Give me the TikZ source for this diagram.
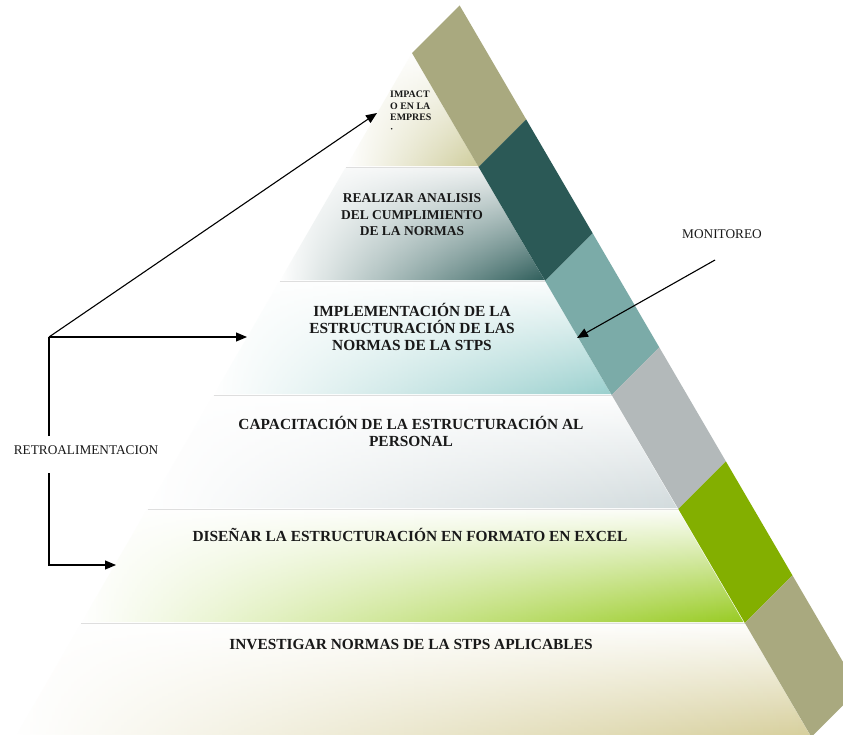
\documentclass[tikz,border=0pt]{standalone}
\usepackage{fontspec}
\setmainfont{Liberation Serif}
\usetikzlibrary{arrows.meta,fadings}
\tikzfading[name=fadeR, left color=transparent!100, right color=transparent!0]
\newcommand\xl[1]{412-0.58*(#1-53)}
\newcommand\xr[1]{412+0.584*(#1-53)}
\definecolor{olive}{HTML}{A9A97F}
\definecolor{dteal}{HTML}{2B5956}
\definecolor{mteal}{HTML}{7BABA8}
\definecolor{bgrey}{HTML}{B3B9BA}
\definecolor{bgreen}{HTML}{83AF00}
\definecolor{lolive}{HTML}{CFCD9C}
\definecolor{ldteal}{HTML}{2F5E5B}
\definecolor{ldtop}{HTML}{E8ECEC}
\definecolor{lteal}{HTML}{9AD0CE}
\definecolor{lgrey}{HTML}{D2DBDD}
\definecolor{lgreen}{HTML}{98CB22}
\definecolor{ltan}{HTML}{D5CD98}
\begin{document}
\begin{tikzpicture}[x=1pt,y=-1pt,
  lbl/.style={align=center, text=black!90, font=\bfseries\fontsize{15.4}{17}\selectfont, inner sep=0pt},
  plain/.style={text=black!90, font=\fontsize{13.3}{15}\selectfont, inner sep=0pt},
  arr/.style={line width=1.1pt, -{Triangle[length=11pt,width=9pt]}},
  ln/.style={line width=1.1pt},
  sepline/.style={draw=black!13, line width=1pt},
  layer/.style={shade, top color=#1!4, bottom color=#1, path fading=fadeR},
  barseg/.style={fill=#1, draw=none}]
\useasboundingbox (0,0) rectangle (843,734);
\clip (0,0) rectangle (843,734);
\fill[white] (0,0) rectangle (843,734);
% layers
\path[layer=lolive] (412,53) -- ({\xr{166}},166) -- ({\xl{166}},166) -- cycle;
\path[shade, top color=ldtop, bottom color=ldteal, path fading=fadeR] ({\xl{168}},168) -- ({\xr{168}},168) -- ({\xr{280}},280) -- ({\xl{280}},280) -- cycle;
\path[layer=lteal] ({\xl{282}},282) -- ({\xr{282}},282) -- ({\xr{394}},394) -- ({\xl{394}},394) -- cycle;
\path[layer=lgrey] ({\xl{396}},396) -- ({\xr{396}},396) -- ({\xr{508}},508) -- ({\xl{508}},508) -- cycle;
\path[layer=lgreen] ({\xl{510}},510) -- ({\xr{510}},510) -- ({\xr{622}},622) -- ({\xl{622}},622) -- cycle;
\path[layer=ltan] ({\xl{624}},624) -- ({\xr{624}},624) -- ({\xr{740}},740) -- ({\xl{740}},740) -- cycle;
% separators
\foreach \y in {167,281,395,509,623}
  \draw[sepline] ({\xl{\y}},\y) -- ({\xr{\y}},\y);
% bar
\def\d{47.6}
\foreach \a/\b/\c in {53/167/olive,167/281/dteal,281/395/mteal,395/509/bgrey,509/623/bgreen,623/737/olive}
  \path[barseg=\c] ({\xr{\a}},\a) -- ({\xr{\a}+\d},\a-\d) -- ({\xr{\b}+\d},\b-\d) -- ({\xr{\b}},\b) -- cycle;
% texts
\node[lbl, font=\bfseries\fontsize{9.9}{11.5}\selectfont, align=left, anchor=north west] (t1) at (390,91) {IMPACT\\O EN LA\\EMPRES\\·};
\node[lbl, font=\bfseries\fontsize{13.5}{16.5}\selectfont] (t2) at (412,215) {REALIZAR ANALISIS\\DEL CUMPLIMIENTO\\DE LA NORMAS};
\node[lbl] (t3) at (412,327) {IMPLEMENTACIÓN DE LA\\ESTRUCTURACIÓN DE LAS\\NORMAS DE LA STPS};
\node[lbl] (t4) at (411,431) {CAPACITACIÓN DE LA ESTRUCTURACIÓN AL\\PERSONAL};
\node[lbl] (t5) at (410,535) {DISEÑAR LA ESTRUCTURACIÓN EN FORMATO EN EXCEL};
\node[lbl] (t6) at (411,645) {INVESTIGAR NORMAS DE LA STPS APLICABLES};
\node[plain] (mon) at (722,234) {MONITOREO};
\node[plain] (retro) at (86,450) {RETROALIMENTACION};
% connectors
\coordinate (jn) at (49,337);
\coordinate (r1) at (49,436);
\coordinate (r2) at (49,473);
\coordinate (r3) at (49,565);
\coordinate (p1) at (377,113);
\coordinate (p3) at (247,337);
\coordinate (p5) at (116,565);
\coordinate (m0) at (715,260);
\coordinate (m1) at (577,338);
\draw[ln] (r1) -- (jn);
\draw[arr] (jn) -- (p3);
\draw[arr] (jn) -- (p1);
\draw[arr] (r2) -- (r3) -- (p5);
\draw[arr] (m0) -- (m1);
\end{tikzpicture}
\end{document}
